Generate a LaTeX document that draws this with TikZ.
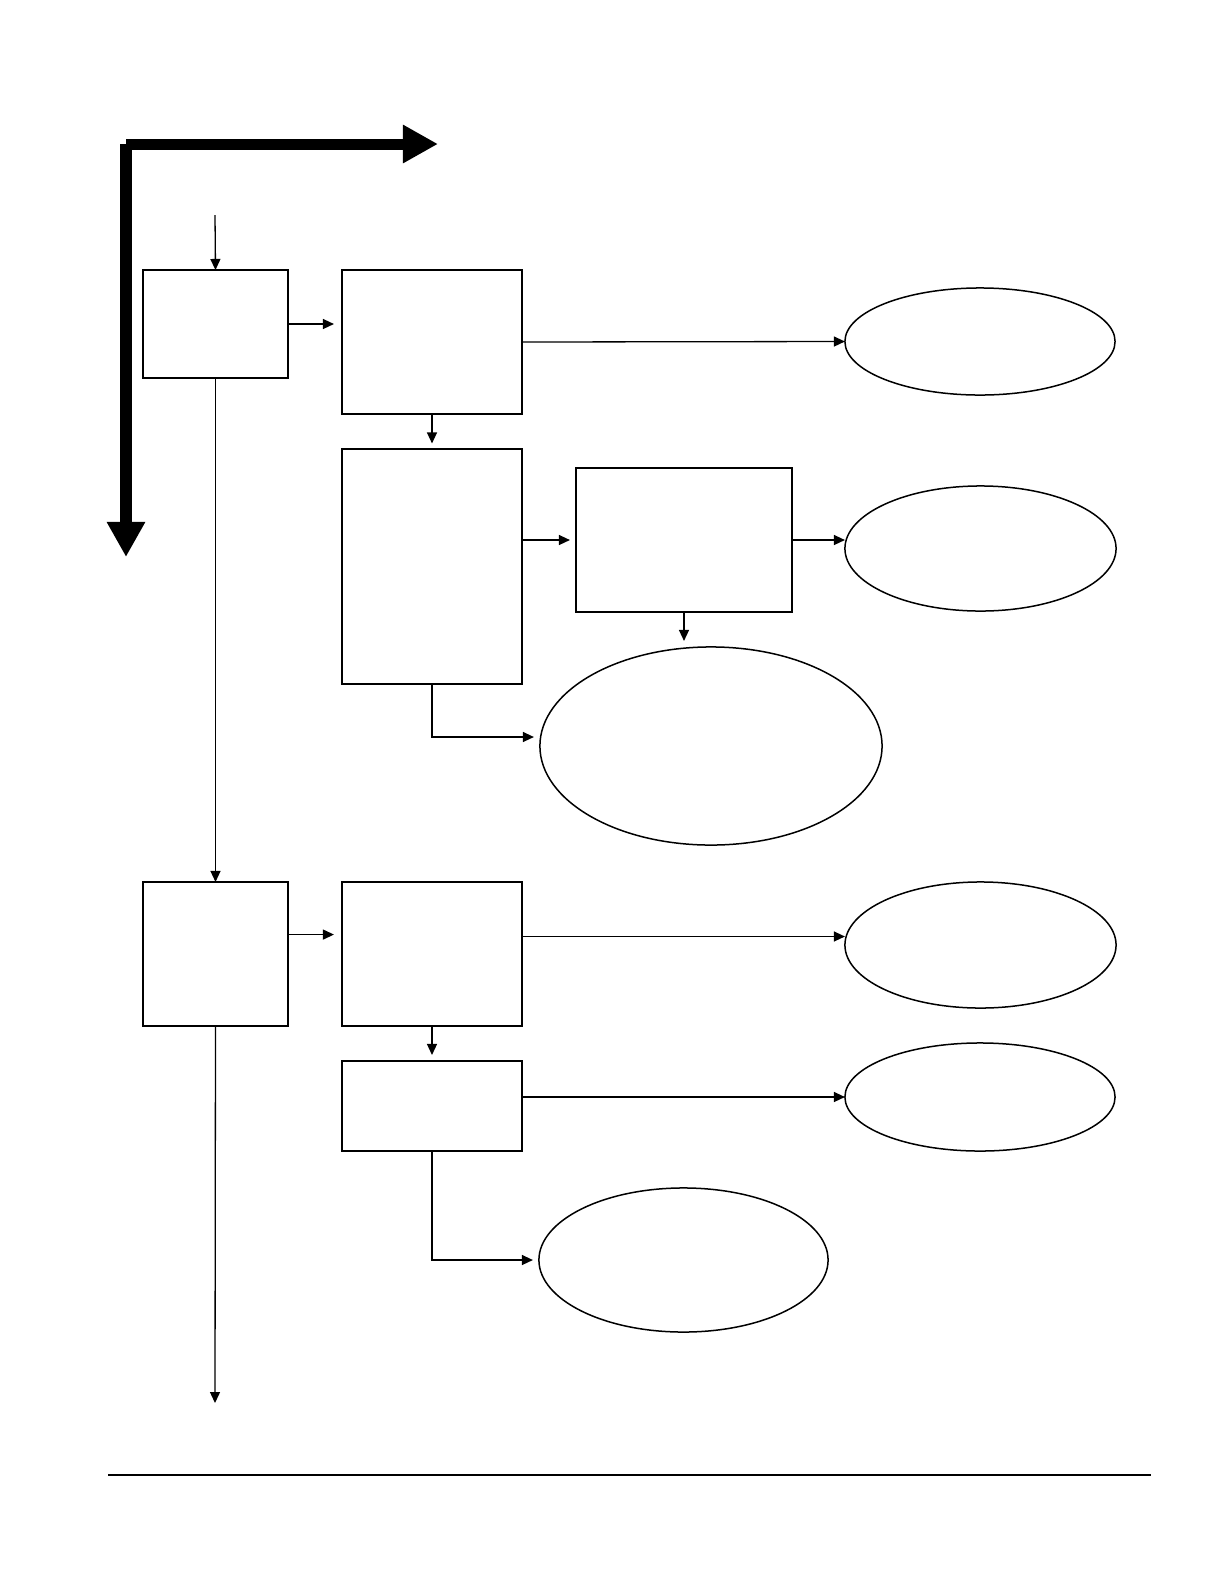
\documentclass[tikz,border=0pt]{standalone}
\usepackage{tikz}
\usetikzlibrary{arrows.meta,shapes.geometric}
\usepackage{xcolor}

\begin{document}
\begin{tikzpicture}[x=0.01cm, y=-0.01cm, >={Triangle[length=0.11cm, width=0.1cm]},
    stepbox/.style={draw, line width=0.02cm, inner sep=0pt, outer sep=0pt},
    outcome/.style={draw, ellipse, line width=0.015cm, inner sep=0pt, outer sep=0pt},
    link/.style={->, line width=0.013cm},
    bigarrow/.style={-{Triangle[length=0.35cm, width=0.36cm]}, line width=0.11cm}]
  \useasboundingbox (0,0) rectangle (1224,1584);

  % heavy axes
  \coordinate (corner) at (126,144);
  \coordinate (axisright) at (438,144);
  \coordinate (axisdown) at (126,557);
  \draw[bigarrow] (corner) -- (axisright);
  \draw[bigarrow] (corner) -- (axisdown);

  % upper branch
  \node[stepbox, minimum width=1.45cm, minimum height=1.08cm] (left1) at (215.5,324) {};
  \node[stepbox, minimum width=1.8cm, minimum height=1.44cm] (mid1) at (432,342) {};
  \node[stepbox, minimum width=1.8cm, minimum height=2.34cm] (low1) at (432,566.5) {};
  \node[stepbox, minimum width=2.16cm, minimum height=1.44cm] (side1) at (684,540) {};
  \node[outcome, minimum width=2.7cm, minimum height=1.07cm] (out1) at (980,341.5) {};
  \node[outcome, minimum width=2.71cm, minimum height=1.25cm] (out2) at (980.5,548.5) {};
  \node[outcome, minimum width=3.42cm, minimum height=1.98cm] (out3) at (711,746) {};

  % lower branch
  \node[stepbox, minimum width=1.45cm, minimum height=1.44cm] (left2) at (215.5,954) {};
  \node[stepbox, minimum width=1.8cm, minimum height=1.44cm] (mid2) at (432,954) {};
  \node[stepbox, minimum width=1.8cm, minimum height=0.9cm] (low2) at (432,1106) {};
  \node[outcome, minimum width=2.71cm, minimum height=1.26cm] (out4) at (980.5,945) {};
  \node[outcome, minimum width=2.7cm, minimum height=1.08cm] (out5) at (980,1097) {};
  \node[outcome, minimum width=2.89cm, minimum height=1.44cm] (out6) at (683.5,1260) {};

  \coordinate (start) at (215,215);
  \coordinate (finish) at (215,1403);

  % connectors
  \draw[link] (start) -- (left1.north);
  \draw[link, shorten >=0.08cm] (left1.east) -- (left1.east -| mid1.west);
  \draw[link] (mid1.east) -- (out1.west);
  \draw[link, shorten >=0.06cm] (mid1.south) -- (low1.north);
  \draw[link, shorten >=0.06cm] (low1.east |- side1.west) -- (side1.west);
  \draw[link] (side1.east) -- (side1.east -| out2.west);
  \draw[link, shorten >=0.06cm] (side1.south) -- (side1.south |- out3.north);
  \draw[link, shorten >=0.06cm] (low1.south) |- ([yshift=0.09cm]out3.west);
  \draw[link] (left1.south) -- (left2.north);

  \draw[link, shorten >=0.08cm] (left2.15) -- (left2.15 -| mid2.west);
  \draw[link] (mid2.11) -- (mid2.11 -| out4.west);
  \draw[link, shorten >=0.06cm] (mid2.south) -- (low2.north);
  \draw[link] (low2.east |- out5.west) -- (out5.west);
  \draw[link, shorten >=0.06cm] (low2.south) |- (out6.west);
  \draw[link] (left2.south) -- (finish);

  % footer rule
  \draw[line width=0.02cm] (108,1474.5) -- (1151,1474.5);
\end{tikzpicture}
\end{document}
